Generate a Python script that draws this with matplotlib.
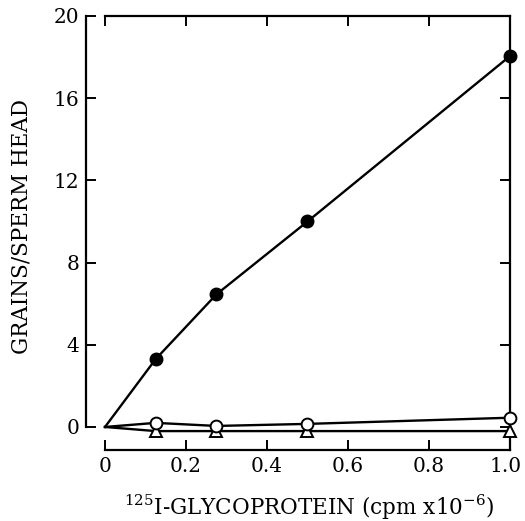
import matplotlib
matplotlib.use("Agg")
import matplotlib.pyplot as plt
import matplotlib.transforms as mtransforms

# data
cpm = [0, 0.125, 0.275, 0.5, 1.0]
grains_filled = [0, 3.3, 6.45, 10.0, 18.05]
grains_open = [0, 0.2, 0.05, 0.15, 0.45]
grains_tri = [0, -0.2, -0.2, -0.2, -0.2]

x_ticks = [0, 0.2, 0.4, 0.6, 0.8, 1.0]
x_ticklabels = ["0", "0.2", "0.4", "0.6", "0.8", "1.0"]
y_ticks = [0, 4, 8, 12, 16, 20]

plt.rcParams["font.family"] = "DejaVu Serif"
plt.rcParams["mathtext.fontset"] = "dejavuserif"

fig = plt.figure(figsize=(5.25, 5.21), dpi=100)
ax = fig.add_axes([0.2, 0.1363, 0.7714, 0.833])

lw = 1.7
# origin point has no marker in the original; markers at x=1 sit over the spine
ax.plot(cpm, grains_tri, color="black", lw=lw, marker="^", ms=8,
        mfc="white", mec="black", mew=1.4, markevery=slice(1, None),
        clip_on=False, zorder=3)
ax.plot(cpm, grains_open, color="black", lw=lw, marker="o", ms=8.5,
        mfc="white", mec="black", mew=1.4, markevery=slice(1, None),
        clip_on=False, zorder=4)
ax.plot(cpm, grains_filled, color="black", lw=lw, marker="o", ms=9,
        mfc="black", mec="black", markevery=slice(1, None),
        clip_on=False, zorder=5)

ax.set_xlim(0, 1.0)
ax.set_ylim(-1.12, 20)

for s in ax.spines.values():
    s.set_linewidth(1.6)
ax.spines["left"].set_position(("outward", 13.7))
ax.spines["left"].set_bounds(0, 20)

ax.set_xticks(x_ticks)
ax.set_xticklabels(x_ticklabels)
ax.set_yticks(y_ticks)
ax.tick_params(axis="both", direction="in", top=True, right=True,
               length=7, width=1.4, labelsize=14.5)
ax.tick_params(axis="x", pad=5)
ax.tick_params(axis="y", pad=5)

# keep "1.0" inside the figure edge
last = ax.get_xticklabels()[-1]
last.set_transform(last.get_transform() +
                   mtransforms.ScaledTranslation(-3 / 72, 0, fig.dpi_scale_trans))

fig.text(309 / 525, 1 - 515 / 521,
         r"$^{125}$I-GLYCOPROTEIN (cpm x10$^{-6}$)", fontsize=15.5,
         ha="center", va="baseline")
fig.text(22 / 525, 1 - 226 / 521, "GRAINS/SPERM HEAD", fontsize=15.5,
         rotation=90, ha="center", va="center")

fig.savefig("out.png", dpi=100)
